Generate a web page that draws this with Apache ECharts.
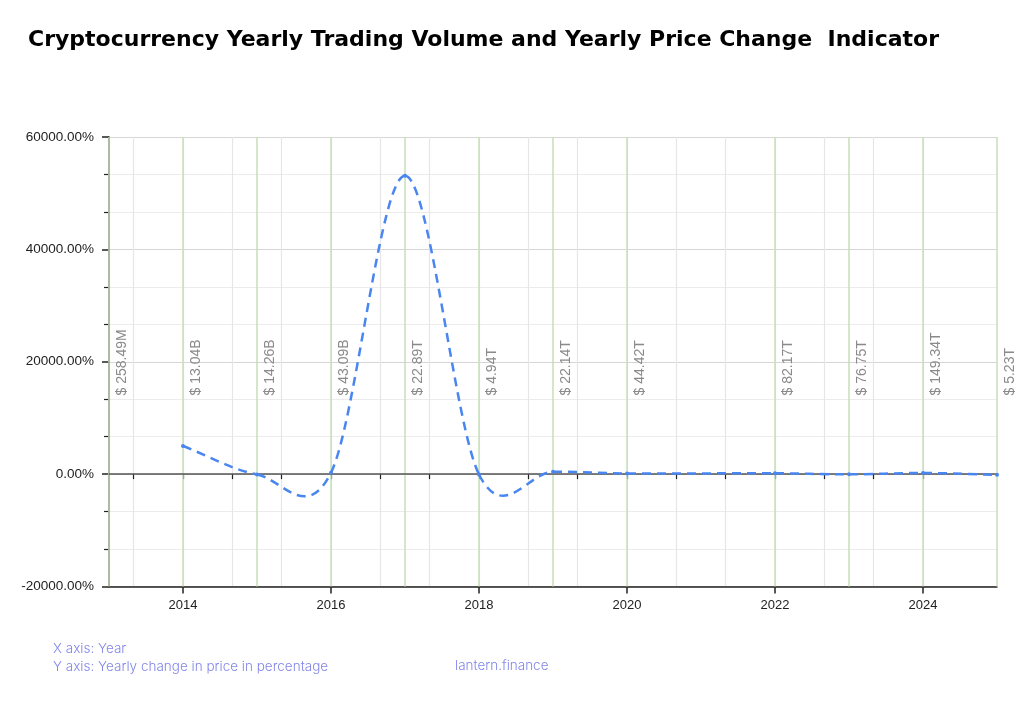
<!DOCTYPE html>
<html>
<head>
<meta charset="utf-8">
<script src="https://cdn.jsdelivr.net/npm/echarts@6/dist/echarts.min.js"></script>
<style>html,body{margin:0;padding:0;background:#fff}#c{width:1028px;height:712px}</style>
</head>
<body>
<div id="c"></div>
<script>
// ---- data ----
var years = [2014, 2015, 2016, 2017, 2018, 2019, 2020, 2022, 2023, 2024, 2025];
var priceChangePct = [5000, -50, 250, 53100, -60, 420, 120, 150, -30, 200, -120];
var volumeYears = [2013, 2014, 2015, 2016, 2017, 2018, 2019, 2020, 2022, 2023, 2024, 2025];
var volumeLabels = ['$ 258.49M', '$ 13.04B', '$ 14.26B', '$ 43.09B', '$ 22.89T', '$ 4.94T', '$ 22.14T', '$ 44.42T', '$ 82.17T', '$ 76.75T', '$ 149.34T', '$ 5.23T'];
var xLabelValues = [2014, 2016, 2018, 2020, 2022, 2024];
var xMin = 2013, xMax = 2025;
var yMin = -20000, yMax = 60000, yStep = 20000;

// minor grid positions every 2/3 year
var minorX = [];
for (var k = 1; k < 18; k++) { minorX.push(xMin + k / 3 * 2 - 1 / 3); }
minorX = minorX.filter(function (v) { return v > xMin && v < xMax; });

var LINE_COLOR = '#4a86f0';

var chart = echarts.init(document.getElementById('c'));

var lineData = years.map(function (y, i) { return [y, priceChangePct[i]]; });
var markData = volumeYears.map(function (y, i) {
  return [
    { coord: [y, yMin], name: volumeLabels[i] },
    { coord: [y, yMax] }
  ];
});
markData.push({
  yAxis: 0,
  lineStyle: { color: '#555', width: 1.5, type: 'solid' },
  label: { show: false }
});

// Catmull-Rom style curve (x-monotone) through the data points,
// using pixel coordinates given by the chart's own scales
function renderCurve(params, api) {
  if (params.dataIndex !== 0) return null;
  var pts = lineData.map(function (d) { return api.coord(d); });
  var n = pts.length;
  var slope = [];
  for (var i = 0; i < n; i++) {
    var prev = pts[Math.max(i - 1, 0)];
    var next = pts[Math.min(i + 1, n - 1)];
    slope.push((next[1] - prev[1]) / (next[0] - prev[0]));
  }
  var children = [];
  for (var j = 0; j < n - 1; j++) {
    var a = pts[j], b = pts[j + 1];
    var h = (b[0] - a[0]) / 3;
    children.push({
      type: 'bezierCurve',
      shape: {
        x1: a[0], y1: a[1],
        cpx1: a[0] + h, cpy1: a[1] + slope[j] * h,
        cpx2: b[0] - h, cpy2: b[1] - slope[j + 1] * h,
        x2: b[0], y2: b[1]
      },
      style: { stroke: LINE_COLOR, lineWidth: 2.5, lineDash: [9, 6], fill: null }
    });
  }
  return { type: 'group', children: children };
}

var footStyle = { fontFamily: 'Inter', fontWeight: 300, fontSize: 13.5, color: '#8286e8' };

var option = {
  backgroundColor: '#fff',
  animation: false,
  title: [
    {
      text: 'Cryptocurrency Yearly Trading Volume and Yearly Price Change  Indicator',
      left: 23, top: 24,
      textStyle: { fontFamily: 'DejaVu Sans', fontWeight: 'bold', fontSize: 22, color: '#000' }
    },
    { text: 'X axis: Year', left: 48, top: 637, textStyle: footStyle },
    { text: 'Y axis: Yearly change in price in percentage', left: 48, top: 655, textStyle: footStyle },
    { text: 'lantern.finance', left: 450, top: 654, textStyle: footStyle }
  ],
  grid: { left: 109, right: 31, top: 137, bottom: 125.5, containLabel: false },
  xAxis: [
    {
      type: 'value', min: xMin, max: xMax,
      axisLine: { show: true, onZero: false, lineStyle: { color: '#222', width: 1.5 } },
      axisTick: { show: true, customValues: xLabelValues, length: 7, lineStyle: { color: '#222', width: 1.5 } },
      axisLabel: { customValues: xLabelValues, margin: 12, fontFamily: 'Liberation Sans', fontSize: 13, color: '#222',
        formatter: function (v) { return String(v); } },
      splitLine: { show: false }
    },
    {
      type: 'value', min: xMin, max: xMax, position: 'bottom',
      axisLine: { show: false },
      axisTick: { show: true, customValues: minorX, length: 5, lineStyle: { color: '#222', width: 1.2 } },
      axisLabel: { show: false },
      splitLine: { show: true, lineStyle: { color: '#e6e6e6', width: 1.2 } }
    }
  ],
  yAxis: {
    type: 'value', min: yMin, max: yMax, interval: yStep,
    axisLine: { show: true, onZero: false, lineStyle: { color: '#222', width: 1.5 } },
    axisTick: { show: true, length: 7, lineStyle: { color: '#222', width: 1.5 } },
    minorTick: { show: true, splitNumber: 3, length: 5, lineStyle: { color: '#222', width: 1.2 } },
    axisLabel: { margin: 15, fontFamily: 'Liberation Sans', fontSize: 13.5, color: '#222',
      formatter: function (v) { return v.toFixed(2) + '%'; } },
    splitLine: { show: true, lineStyle: { color: '#d6d6d6', width: 1.2 } },
    minorSplitLine: { show: true, lineStyle: { color: '#ececec', width: 1.2 } }
  },
  series: [
    {
      type: 'custom',
      xAxisIndex: 0,
      data: lineData,
      encode: { x: 0, y: 1 },
      renderItem: renderCurve,
      silent: true,
      z: 4
    },
    {
      type: 'line',
      xAxisIndex: 0,
      data: lineData,
      symbol: 'circle',
      symbolSize: 4,
      itemStyle: { color: LINE_COLOR },
      lineStyle: { opacity: 0, width: 0 },
      z: 5,
      markLine: {
        silent: true,
        symbol: ['none', 'none'],
        animation: false,
        z: 3,
        lineStyle: { color: '#c6dfb8', width: 1.5, type: 'solid' },
        label: {
          show: true,
          position: 'insideStartBottom',
          distance: [191, 6],
          formatter: function (p) { return p.name; },
          fontFamily: 'Liberation Sans', fontSize: 14, color: '#8a8a8a'
        },
        data: markData
      }
    }
  ]
};
chart.setOption(option);
</script>
</body>
</html>
